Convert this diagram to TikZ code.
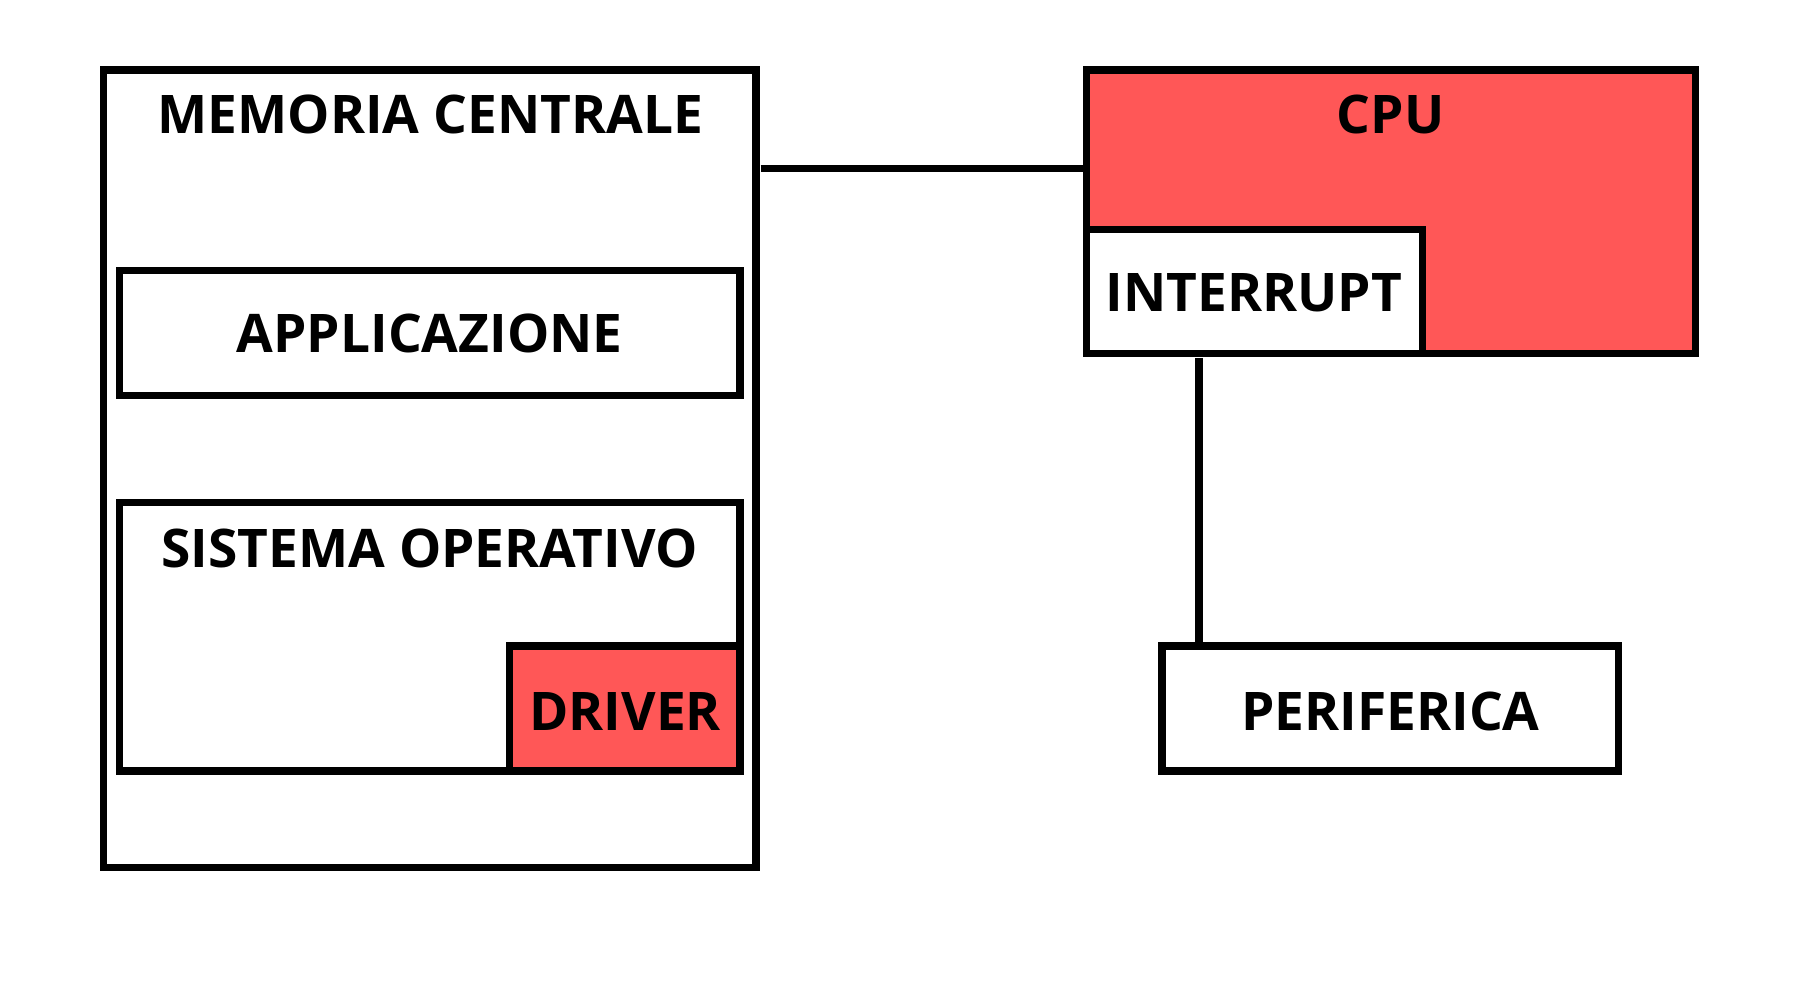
\documentclass[tikz,border=0pt]{standalone}
\usepackage{fontspec}
\setmainfont{Open Sans}
\definecolor{boxred}{HTML}{FF5757}
\begin{document}
\begin{tikzpicture}[x=0.5pt,y=-0.5pt,
  box/.style={draw=black, line width=3.2pt, rectangle, inner sep=0pt, outer sep=0pt, line join=miter, fill=white},
  redbox/.style={box, fill=boxred},
  lbl/.style={font=\fontsize{23.2pt}{27pt}\selectfont\bfseries, text=black, inner sep=0pt},
  conn/.style={draw=black, line width=3.2pt}]
\useasboundingbox (0,0) rectangle (1569,872);
\fill[white] (0,0) rectangle (1569,872);
% memoria centrale
\node[box, minimum width=284.5pt, minimum height=347.5pt] (mem) at (374.5,408.5) {};
\node[lbl] (memt) at (375,100) {MEMORIA CENTRALE};
\node[box, minimum width=270.5pt, minimum height=54.5pt] (app) at (374.5,290.5) {};
\node[lbl] (appt) at (374.5,291) {APPLICAZIONE};
\node[box, minimum width=270.5pt, minimum height=117pt] (sis) at (374.5,555) {};
\node[lbl] (sist) at (374.5,478) {SISTEMA OPERATIVO};
\node[redbox, minimum width=100.5pt, minimum height=54.5pt] (drv) at (544.5,617.5) {};
\node[lbl] (drvt) at (545,620) {DRIVER};
% cpu
\node[redbox, minimum width=265.5pt, minimum height=123.5pt] (cpu) at (1212.5,184.5) {};
\node[lbl] (cput) at (1212,100) {CPU};
\node[box, minimum width=146.5pt, minimum height=54pt] (int) at (1093.5,254) {};
\node[lbl] (intt) at (1093,255) {INTERRUPT};
% periferica
\node[box, minimum width=199pt, minimum height=54.5pt] (per) at (1212,617.5) {};
\node[lbl] (pert) at (1212,620) {PERIFERICA};
% connectors
\coordinate (hy) at (0,147);
\coordinate (vx) at (1045,0);
\draw[conn] ([xshift=2pt]mem.east |- hy) -- (cpu.west |- hy);
\draw[conn] ([yshift=-2pt]vx |- int.south) -- (vx |- per.north);
\end{tikzpicture}
\end{document}
